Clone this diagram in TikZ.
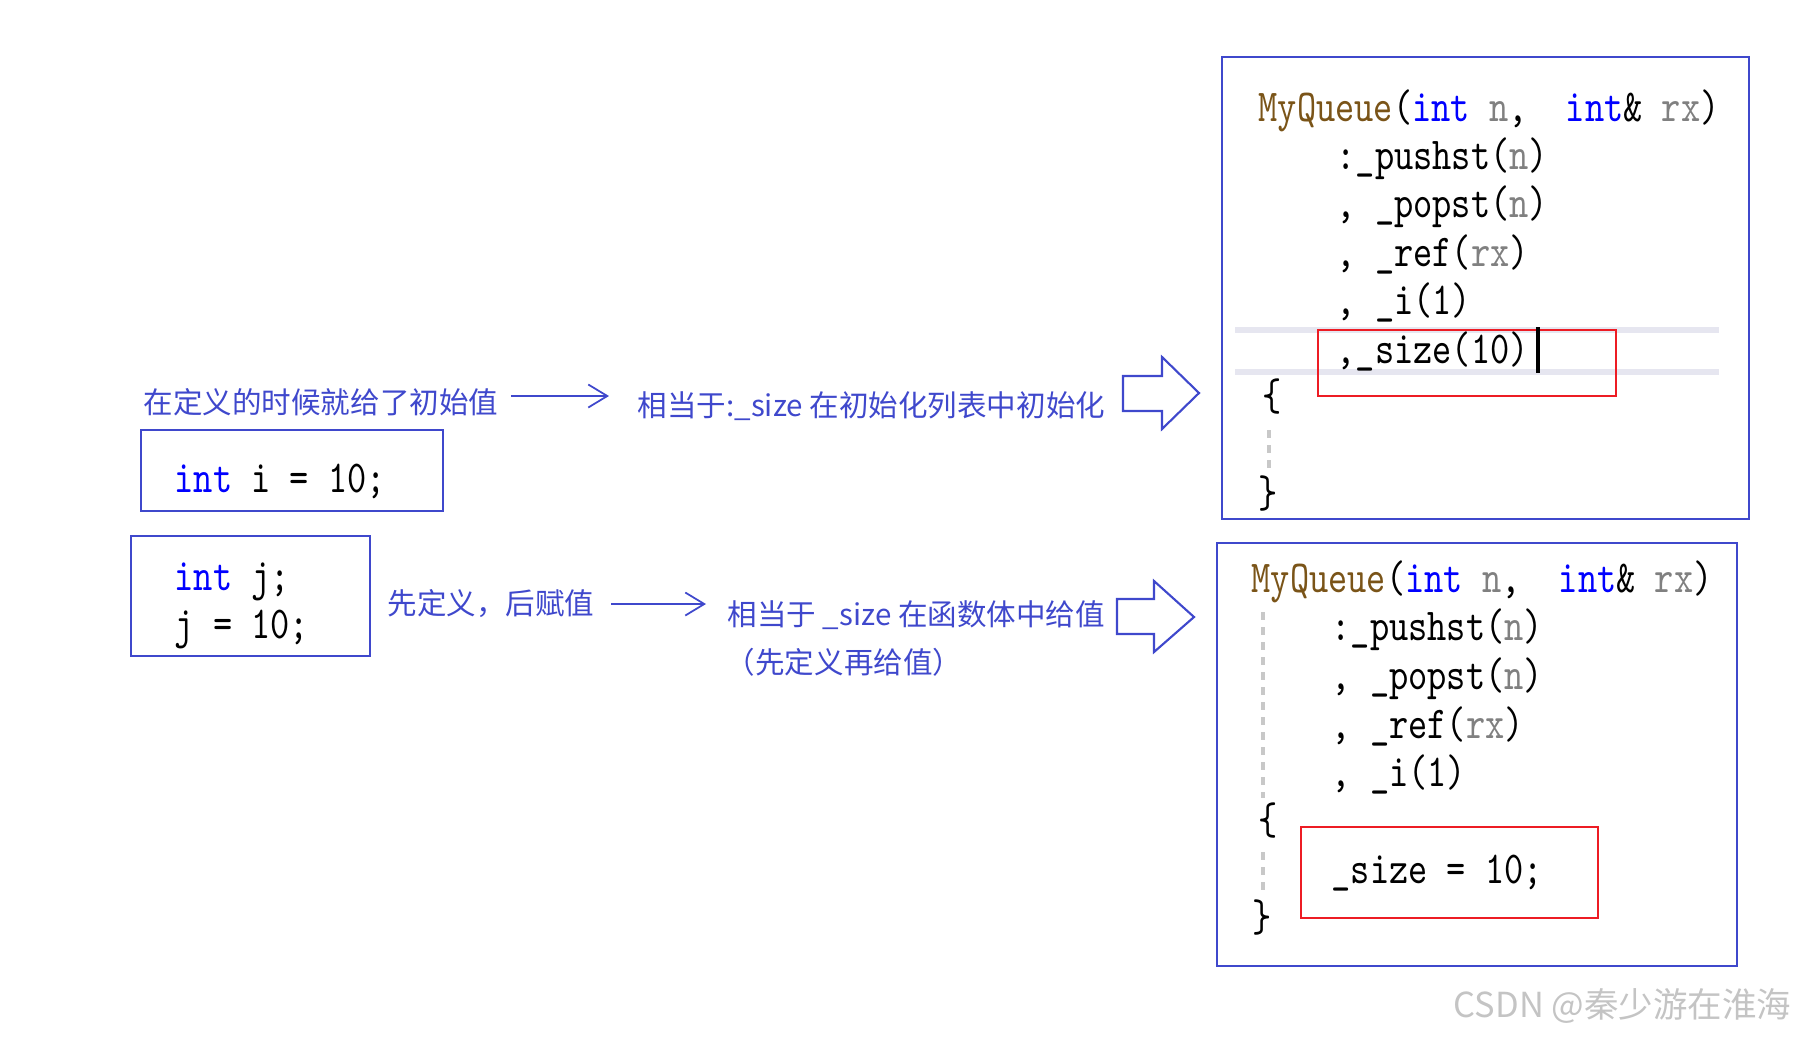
\documentclass[tikz,border=0pt]{standalone}
\usepackage{fontspec}
\newfontfamily\cjk{Noto Sans CJK SC}
\newfontfamily\codefont{lmmono10-regular.otf}[FakeStretch=0.80]
\usetikzlibrary{arrows.meta}
\definecolor{boxblue}{HTML}{3F48CC}
\definecolor{kwblue}{HTML}{0000FF}
\definecolor{prmgray}{HTML}{808080}
\definecolor{fnbrown}{HTML}{7A5418}
\definecolor{hlgray}{HTML}{E6E6F0}
\definecolor{guidegray}{HTML}{C8C8C8}
\definecolor{hired}{HTML}{ED1C24}
\definecolor{wmgray}{HTML}{C4C4C4}
\newcommand{\kw}[1]{\textcolor{kwblue}{#1}}
\newcommand{\prm}[1]{\textcolor{prmgray}{#1}}
\newcommand{\fnm}[1]{\textcolor{fnbrown}{#1}}

\begin{document}
\begin{tikzpicture}[x=0.01cm, y=-0.01cm,
    code/.style={font=\codefont\fontsize{13pt}{15pt}\selectfont, inner sep=0pt, anchor=base west},
    note/.style={font=\cjk\fontsize{8.4pt}{10pt}\selectfont, text=boxblue, inner sep=0pt, anchor=west},
    frame/.style={draw=boxblue, line width=0.6pt},
    redbox/.style={draw=hired, line width=0.45pt},
    guide/.style={draw=guidegray, line width=1.2pt, dash pattern=on 0.08cm off 0.07cm},
    thinarr/.style={draw=boxblue, line width=0.5pt, -{Straight Barb[length=1.9mm, width=2.3mm]}},
    bigarr/.style={draw=boxblue, line width=0.6pt, line join=miter}]
  \useasboundingbox (0,0) rectangle (1795,1039);

  % left: the two ways of giving a value
  \node[note] (note1) at (143,402) {在定义的时候就给了初始值};
  \node[note] (eq1) at (637,406) {相当于:\_size 在初始化列表中初始化};
  \coordinate (a1) at ([yshift=0.06cm]note1.east);
  \draw[thinarr, shorten <=0.12cm, shorten >=0.28cm] (a1) -- (a1 -| eq1.west);
  \draw[frame] (141,430) rectangle (443,511);
  \node[code] (def1) at (174,492) {\kw{int}~i~=~10;};

  \draw[frame] (131,536) rectangle (370,656);
  \node[code] (def2) at (174,590) {\kw{int}~j;};
  \node[code] (set2) at (174,638) {j~=~10;};
  \node[note] (note2) at (387,604) {先定义，后赋值};
  \node[note] (eq2) at (727,615) {相当于 \_size 在函数体中给值};
  \node[note, anchor=center] (eq2b) at (844,662) {（先定义再给值）};
  \draw[thinarr, shorten <=0.16cm, shorten >=0.21cm] (note2.east) -- (note2.east -| eq2.west);

  \draw[bigarr] (1123,376) -- (1162,376) -- (1162,357) -- (1199,393) -- (1162,429) -- (1162,411) -- (1123,411) -- cycle;
  \draw[bigarr] (1117,599) -- (1154,599) -- (1154,581) -- (1194,617) -- (1154,652) -- (1154,634) -- (1117,634) -- cycle;

  % top: initialisation list
  \draw[frame] (1222,57) rectangle (1749,519);
  \draw[hlgray, line width=1.7pt] (1235,330) -- (1719,330) (1235,372) -- (1719,372);
  \draw[redbox] (1318,330) rectangle (1616,396);
  \node[code] (sig1) at (1258,121) {\fnm{MyQueue}(\kw{int}~\prm{n},~~\kw{int}\&~\prm{rx})};
  \foreach \t [count=\k] in {{:\_pushst(\prm{n})}, {,~\_popst(\prm{n})}, {,~\_ref(\prm{rx})}, {,~\_i(1)}, {,\_size(10)}}
    \node[code] (top\k) at (1336,{121+48.4*\k}) {\t};
  \draw[line width=0.9pt] (1538,327) -- (1538,373);
  \node[code, anchor=center] (ob1) at (1272,397) {\{};
  \node[code, anchor=center] (cb1) at (1268,494) {\}};
  \draw[guide] (1269,430) -- (1269,472);

  % bottom: value given in the body
  \draw[frame] (1217,543) rectangle (1737,966);
  \node[code] (sig2) at (1251,592) {\fnm{MyQueue}(\kw{int}~\prm{n},~~\kw{int}\&~\prm{rx})};
  \foreach \t [count=\k] in {{:\_pushst(\prm{n})}, {,~\_popst(\prm{n})}, {,~\_ref(\prm{rx})}, {,~\_i(1)}}
    \node[code] (bot\k) at (1331,{592+48.7*\k}) {\t};
  \draw[guide] (1263,612) -- (1263,798) (1263,852) -- (1263,895);
  \node[code, anchor=center] (ob2) at (1268,821) {\{};
  \node[code, anchor=center] (cb2) at (1262,918) {\}};
  \draw[redbox] (1301,827) rectangle (1598,918);
  \node[code] (body2) at (1331,883) {\_size~=~10;};

  \node[font=\cjk\fontsize{9.8pt}{11pt}\selectfont, text=wmgray, anchor=west, inner sep=0pt] (wmark) at (1453,1006) {CSDN @秦少游在淮海};
\end{tikzpicture}
\end{document}
